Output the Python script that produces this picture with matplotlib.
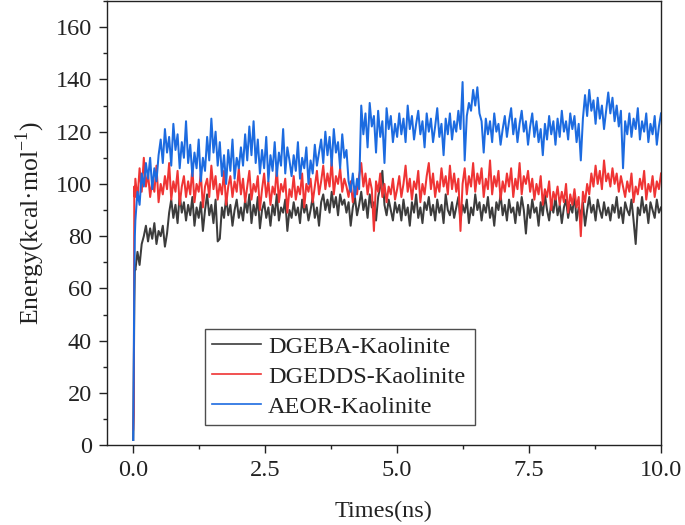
import numpy as np
import matplotlib
matplotlib.use("Agg")
import matplotlib.pyplot as plt
from matplotlib.ticker import MultipleLocator, FormatStrFormatter

plt.rcParams['font.family'] = ['Liberation Serif', 'DejaVu Serif']
plt.rcParams['mathtext.fontset'] = 'custom'
plt.rcParams['mathtext.rm'] = 'Liberation Serif'

# ---- data (ns, kcal/mol) ----
time_start = [0.0, 0.01, 0.02, 0.03]
time_grid = np.round(np.arange(1, 251) * 0.04, 2)
time = np.concatenate([time_start, time_grid])

dgeba = [2, 25, 55, 68,
    67, 74, 69, 77, 80, 84, 78, 83, 79, 85, 77, 82, 80, 84, 76, 81, 89, 94, 87, 92, 85, 96, 89, 93, 86,
    92, 88, 95, 84, 91, 87, 93, 82, 90, 96, 88, 92, 85, 94, 78, 79, 91, 87, 95, 88, 92, 84, 90, 94, 87,
    91, 86, 94, 89, 96, 85, 92, 88, 95, 83, 90, 93, 87, 91, 84, 92, 88, 96, 86, 91, 89, 94, 82, 90, 87,
    93, 88, 91, 85, 94, 89, 92, 86, 90, 95, 87, 91, 84, 93, 96, 90, 94, 89, 97, 91, 95, 88, 96, 92, 94,
    89, 93, 84, 91, 95, 88, 92, 97, 90, 94, 87, 96, 91, 93, 86, 95, 99, 105, 92, 88, 94, 90, 86, 93, 89,
    92, 86, 94, 88, 91, 84, 93, 89, 96, 87, 91, 85, 93, 90, 95, 88, 92, 86, 94, 89, 92, 85, 96, 90, 88,
    93, 87, 91, 95, 86, 92, 89, 94, 85, 91, 88, 96, 90, 93, 86, 92, 89, 95, 87, 91, 84, 93, 90, 96, 88,
    92, 86, 94, 89, 91, 85, 93, 88, 95, 90, 81, 92, 87, 94, 89, 91, 84, 93, 88, 96, 90, 86, 93, 89, 95,
    88, 92, 85, 91, 94, 87, 92, 89, 96, 86, 91, 88, 93, 84, 90, 95, 89, 92, 86, 94, 90, 87, 93, 88, 91,
    86, 92, 89, 95, 87, 91, 85, 93, 90, 88, 94, 86, 77, 91, 88, 95, 89, 92, 85, 93, 90, 87, 94, 89, 91]

dgedds = [6, 12, 99, 95,
    102, 94, 106, 97, 110, 99, 104, 95, 101, 97, 107, 93, 100, 96, 103, 98, 108, 94, 101, 97, 105, 92, 99, 103, 95,
    101, 96, 106, 93, 100, 97, 104, 91, 99, 102, 95, 107, 98, 103, 94, 100, 96, 105, 92, 99, 103, 95, 101, 97, 106,
    96, 102, 93, 99, 105, 94, 100, 97, 103, 90, 98, 104, 95, 101, 92, 99, 96, 106, 93, 100, 97, 102, 89, 98, 95,
    103, 94, 99, 96, 104, 91, 100, 97, 102, 93, 99, 105, 96, 101, 107, 98, 104, 99, 109, 96, 103, 100, 106, 97, 102,
    99, 95, 101, 93, 99, 96, 103, 108, 99, 104, 96, 102, 98, 82, 101, 97, 104, 95, 100, 93, 99, 96, 102, 94, 98,
    103, 95, 100, 107, 97, 102, 94, 101, 98, 105, 93, 100, 96, 103, 108, 98, 104, 95, 101, 97, 106, 99, 103, 96, 107,
    98, 104, 97, 102, 82, 100, 106, 96, 103, 99, 108, 97, 104, 100, 106, 95, 102, 98, 109, 96, 103, 99, 105, 94, 101,
    97, 104, 99, 106, 95, 102, 98, 108, 96, 103, 100, 105, 97, 102, 94, 100, 96, 103, 92, 98, 95, 101, 90, 97, 94,
    99, 92, 97, 93, 100, 89, 96, 92, 98, 91, 95, 80, 97, 93, 100, 96, 104, 99, 107, 100, 105, 98, 109, 101, 104,
    99, 106, 100, 104, 97, 103, 99, 95, 101, 97, 104, 93, 99, 96, 102, 98, 105, 94, 100, 97, 103, 95, 101, 98, 104]

aeor = [2, 30, 62, 80,
    86, 97, 92, 104, 99, 108, 102, 110, 98, 106, 101, 111, 117, 108, 121, 112, 118, 107, 123, 113, 119, 106, 116, 110, 124,
    108, 115, 103, 112, 106, 117, 101, 110, 105, 118, 109, 125, 112, 120, 107, 116, 103, 111, 100, 113, 105, 117, 102, 110, 106,
    114, 107, 119, 109, 122, 111, 124, 108, 117, 104, 113, 106, 118, 101, 111, 105, 116, 103, 112, 107, 121, 104, 114, 109, 103,
    111, 105, 116, 102, 110, 106, 114, 100, 109, 104, 115, 107, 112, 117, 108, 120, 111, 118, 107, 121, 112, 116, 106, 119, 110,
    113, 101, 97, 104, 95, 102, 98, 130, 119, 127, 114, 131, 122, 126, 112, 128, 118, 124, 108, 129, 121, 126, 116, 123, 118,
    127, 119, 125, 116, 130, 121, 126, 117, 123, 128, 119, 124, 114, 127, 120, 125, 116, 122, 129, 118, 123, 111, 125, 119, 127,
    117, 124, 120, 128, 121, 139, 109, 126, 131, 128, 136, 130, 137, 127, 124, 112, 125, 119, 124, 116, 127, 120, 123, 115, 121,
    126, 118, 124, 129, 119, 125, 116, 123, 128, 120, 124, 115, 122, 127, 118, 124, 116, 121, 111, 123, 117, 126, 119, 124, 115,
    125, 118, 128, 120, 124, 117, 127, 121, 126, 116, 123, 109, 125, 134, 126, 136, 128, 132, 123, 133, 125, 130, 121, 128, 135,
    127, 133, 124, 130, 122, 128, 106, 124, 119, 127, 118, 125, 121, 129, 117, 124, 120, 127, 116, 123, 119, 126, 115, 122, 127]

labels = ['DGEBA-Kaolinite', 'DGEDDS-Kaolinite', 'AEOR-Kaolinite']
colors = ['#3c3c3c', '#ef3434', '#1c6be0']

fig = plt.figure(figsize=(6.85, 5.25), dpi=100)
ax = fig.add_axes([0.156, 0.152, 0.809, 0.846])

for series, lab, col in zip([dgeba, dgedds, aeor], labels, colors):
    ax.plot(time, series, color=col, lw=1.45, label=lab)

ax.set_xlim(-0.5, 10.0)
ax.set_ylim(0, 170)
ax.xaxis.set_major_locator(MultipleLocator(2.5))
ax.xaxis.set_minor_locator(MultipleLocator(1.25))
ax.yaxis.set_major_locator(MultipleLocator(20))
ax.yaxis.set_minor_locator(MultipleLocator(10))
ax.xaxis.set_major_formatter(FormatStrFormatter('%.1f'))
ax.tick_params(which='major', direction='out', length=5.8, width=1.0, labelsize=17.5,
               color='#222222', labelcolor='#222222', pad=5)
ax.tick_params(which='minor', direction='out', length=3, width=1.0, color='#222222')
for s in ax.spines.values():
    s.set_linewidth(1.0)
    s.set_color('#222222')

ax.set_xlabel('Times(ns)', fontsize=17.5, labelpad=14, color='#222222')
ax.set_ylabel('Energy(kcal·mol$^{\\mathregular{-1}}$)', fontsize=18.5, labelpad=6, color='#222222')

leg = ax.legend(loc='lower left', bbox_to_anchor=(0.177, 0.045, 0.487, 0.221), mode='expand',
                fontsize=17.5, frameon=True, fancybox=False, edgecolor='#222222',
                handlelength=2.0, handletextpad=0.3, borderpad=0.3, labelspacing=0.33,
                borderaxespad=0)
leg.get_frame().set_linewidth(1.0)
for text in leg.get_texts():
    text.set_color('#222222')
for line in leg.get_lines():
    line.set_linewidth(1.2)

fig.savefig('out.png', dpi=100)
